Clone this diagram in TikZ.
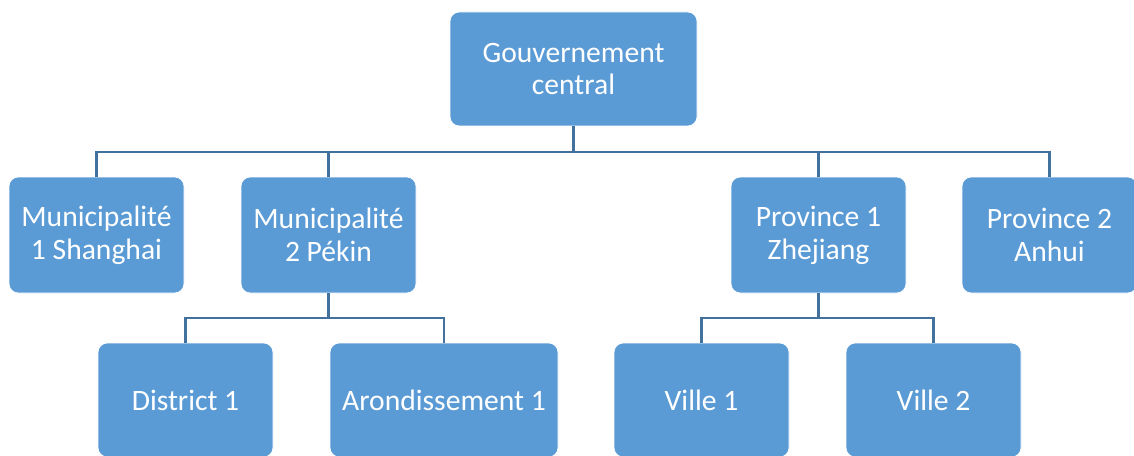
\documentclass[tikz,border=0pt]{standalone}
\usepackage{fontspec}
\setmainfont{Carlito}
\definecolor{boxblue}{HTML}{5B9BD5}
\definecolor{linkblue}{HTML}{41719C}
\begin{document}
\begin{tikzpicture}[x=0.75pt,y=-0.75pt,
  box/.style={draw=white, line width=0.5pt, fill=boxblue, rounded corners=7pt,
    text=white, align=center, font=\fontsize{22.2}{24.6}\selectfont,
    inner sep=0pt, minimum height=86pt, minimum width=131.25pt},
  link/.style={draw=linkblue, line width=1.6pt}]
\useasboundingbox (0,0) rectangle (1134,456);
\node[box, minimum width=185.25pt, minimum height=85.5pt] (gov) at (573.5,69) {Gouvernement\\central};
\node[box, minimum height=87pt] (m1) at (96.5,235) {Municipalité\\1 Shanghai};
\node[box, minimum height=87pt] (m2) at (328.5,235) {Municipalité\\2 Pékin};
\node[box, minimum height=87pt] (p1) at (818.5,235) {Province 1\\Zhejiang};
\node[box, minimum height=87pt] (p2) at (1049.5,235) {Province 2\\Anhui};
\node[box, minimum height=85.5pt] (d1) at (185.5,400) {District 1};
\node[box, minimum height=85.5pt, minimum width=171pt] (a1) at (444,400) {Arondissement 1};
\node[box, minimum height=85.5pt] (v1) at (701.5,400) {Ville 1};
\node[box, minimum height=85.5pt] (v2) at (933.5,400) {Ville 2};
\coordinate (bus1) at (573.5,152);
\coordinate (bus2) at (328.5,318);
\coordinate (bus3) at (818.5,318);
\draw[link] (gov.south) -- (bus1);
\draw[link] (m1.north) -- (m1.north |- bus1) -- (p2.north |- bus1) -- (p2.north);
\draw[link] (m2.north) -- (m2.north |- bus1);
\draw[link] (p1.north) -- (p1.north |- bus1);
\draw[link] (m2.south) -- (bus2);
\draw[link] (d1.north) -- (d1.north |- bus2) -- (a1.north |- bus2) -- (a1.north);
\draw[link] (p1.south) -- (bus3);
\draw[link] (v1.north) -- (v1.north |- bus3) -- (v2.north |- bus3) -- (v2.north);
\end{tikzpicture}
\end{document}
